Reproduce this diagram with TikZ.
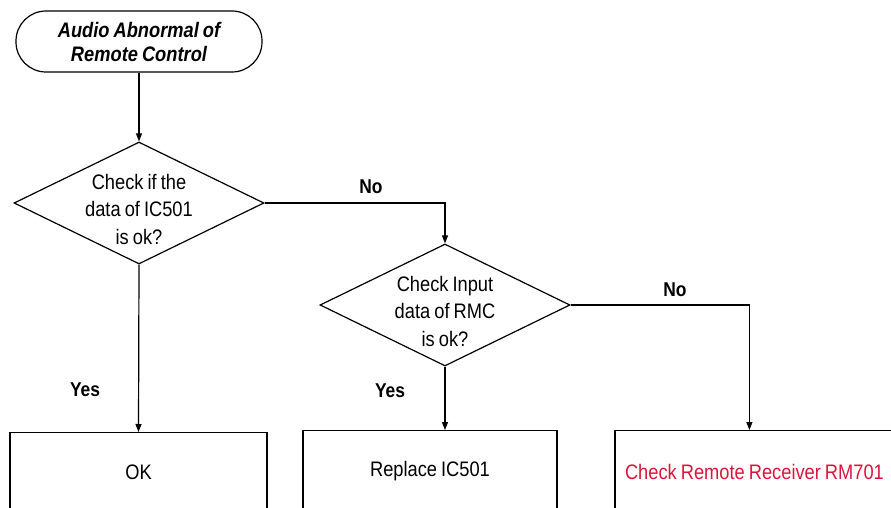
\documentclass[tikz,border=0pt]{standalone}
\usepackage{fontspec}
\setmainfont{Liberation Sans}[FakeStretch=0.87,WordSpace=0.8]
\usetikzlibrary{shapes.geometric,arrows.meta}
\definecolor{redtxt}{RGB}{220,20,60}
\tikzset{
  base/.style={font=\fontsize{21}{27.5}\selectfont, line width=1.2pt},
  term/.style={base, draw, rounded corners=30pt, minimum width=246pt, minimum height=61pt, align=center, font=\fontsize{21}{24}\selectfont\bfseries\itshape, inner sep=0pt},
  decide/.style={base, draw, shape=diamond, minimum width=250pt, minimum height=122pt, inner sep=0pt},
  dtext/.style={align=center, font=\fontsize{21}{27.5}\selectfont, inner sep=0pt, yshift=-6pt},
  procbox/.style={base, draw, anchor=north, inner sep=0pt, text depth=70pt},
  lbl/.style={font=\fontsize{20}{22}\selectfont\bfseries},
  arr/.style={line width=1.2pt, -{Triangle[length=8pt,width=6pt]}}
}
\begin{document}
\begin{tikzpicture}[x=1pt,y=-1pt]
\useasboundingbox (0,0) rectangle (891,508);
\clip (0,0) rectangle (891,508);
\node[term] (t) at (139,41.5) {Audio Abnormal of\\Remote Control};
\node[decide, label={[dtext]center:Check if the\\data of IC501\\is ok?}] (d1) at (139,203) {};
\node[decide, label={[dtext]center:Check Input\\data of RMC\\is ok?}] (d2) at (445,305) {};
\node[procbox, minimum width=257pt, text height=47pt] (b1) at (138.5,432) {OK};
\node[procbox, minimum width=254pt, text height=46pt] (b2) at (430,430) {Replace IC501};
\node[procbox, inner xsep=10pt, text height=49pt, text=redtxt] (b3) at (807.5,430) {\makebox[365pt][l]{Check Remote Receiver RM701}};
\draw[arr] (t.south) -- (d1.north);
\draw[arr] (d1.east) -| (d2.north);
\draw[arr] (d1.south) -- (b1.north);
\draw[arr] (d2.south) -- (d2.south |- b2.north);
\coordinate (b3in) at ([xshift=135pt]b3.north west);
\draw[arr] (d2.east) -| (b3in);
\node[lbl] (no1) at (371,187) {No};
\node[lbl] (no2) at (675,290) {No};
\node[lbl] (yes1) at (85,390) {Yes};
\node[lbl] (yes2) at (390,391) {Yes};
\end{tikzpicture}
\end{document}
